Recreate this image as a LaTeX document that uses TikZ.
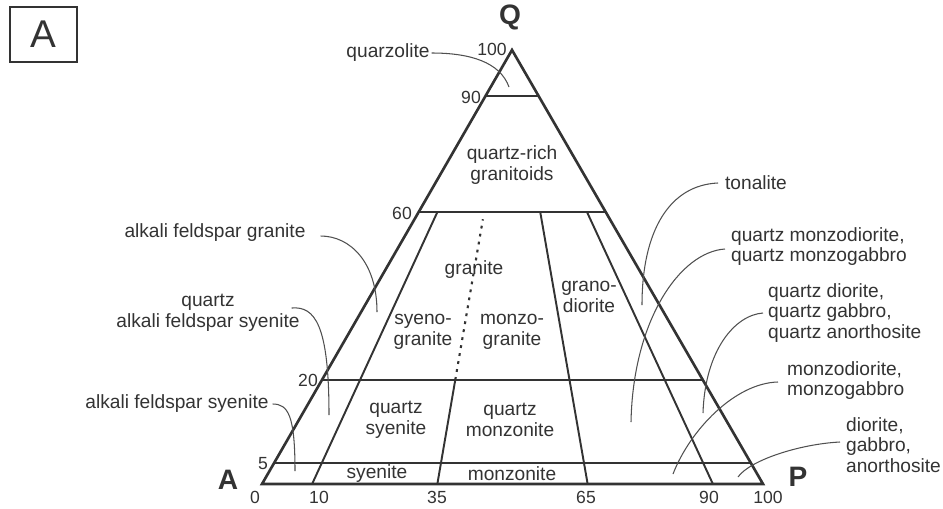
\documentclass[tikz,border=0pt]{standalone}
\usepackage{fontspec}
\setmainfont{Liberation Sans}
\usetikzlibrary{positioning,calc}

\definecolor{ink}{HTML}{333333}
\definecolor{leadc}{HTML}{505050}

\begin{document}
\begin{tikzpicture}[x=0.02cm,y=-0.02cm,
  font=\fontsize{10.9}{11.8}\selectfont,text=ink,
  lbl/.style={inner sep=1pt},
  lbll/.style={inner sep=1pt,align=left,anchor=west},
  lblc/.style={inner sep=1pt,align=center},
  num/.style={inner sep=0pt,font=\fontsize{10}{11}\selectfont},
  vtx/.style={inner sep=0pt,font=\fontsize{16}{18}\selectfont\bfseries},
  rim/.style={draw=ink,line width=1.5pt,line join=miter},
  cut/.style={draw=ink,line width=1.1pt},
  leader/.style={draw=leadc,line width=0.6pt}]
\useasboundingbox (0,0) rectangle (943,508);

% panel tag
\node[draw=ink,line width=1.1pt,minimum width=1.34cm,minimum height=1.1cm,
  inner sep=0pt,font=\fontsize{22}{24}\selectfont] (panel) at (43.5,34.5) {A};

% corners of the QAP triangle
\coordinate (A) at (262,484);
\coordinate (P) at (763,484);
\coordinate (Q) at (512,50);

% horizontal cuts at Q = 90, 60, 20, 5
\foreach \f/\n in {0.894/q90,0.627/q60,0.240/q20,0.048/q5} {
  \coordinate (\n-l) at ($(A)!\f!(Q)$);
  \coordinate (\n-r) at ($(P)!\f!(Q)$);
  \draw[cut] (\n-l) -- (\n-r);
}

% rays towards Q from the A--P side
\foreach \f/\n in {0.1/b10,0.35/b35,0.65/b65,0.9/b90}
  \coordinate (\n) at ($(A)!\f!(P)$);
\draw[cut] (b10) -- ($(b10)!0.627!(Q)$);
\draw[cut] (b65) -- ($(b65)!0.627!(Q)$);
\draw[cut] (b90) -- ($(b90)!0.627!(Q)$);
\draw[cut] (b35) -- ($(b35)!0.240!(Q)$);
\draw[cut,line width=1.2pt,dash pattern=on 1.6pt off 3pt]
  ($(b35)!0.240!(Q)$) -- ($(b35)!0.61!(Q)$);

\draw[rim] (A) -- (P) -- (Q) -- cycle;

% corner letters
\node[vtx] (lq) at (510,17) {Q};
\node[vtx] (la) at (228,480) {A};
\node[vtx] (lp) at (798,477) {P};

% scale numbers
\node[num] (t100) at (492,49) {100};
\node[num] (t90) at (471,97) {90};
\node[num] (t60) at (402,213) {60};
\node[num] (t20) at (308,380) {20};
\node[num] (t5) at (263,464) {5};
\node[num] (s0) at (255,497) {0};
\node[num] (s10) at (319,497) {10};
\node[num] (s35) at (437,497) {35};
\node[num] (s65) at (586,497) {65};
\node[num] (s90) at (709,497) {90};
\node[num] (s100) at (768,497) {100};

% fields inside
\node[lblc] (qrg) at (512,165) {quartz-rich\\granitoids};
\node[lblc] (gra) at (474,270) {granite};
\node[lblc] (syg) at (423,332) {syeno-\\granite};
\node[lblc] (mzg) at (512,332) {monzo-\\granite};
\node[lblc] (grd) at (589,297) {grano-\\diorite};
\node[lblc] (qsy) at (396,420) {quartz\\syenite};
\node[lblc] (qmz) at (510,420) {quartz\\monzonite};
\node[lblc] (sye) at (377,474) {syenite};
\node[lblc] (mzn) at (512,474) {monzonite};

% fields outside, with leaders
\node[lbl] (qzl) at (388,53) {quarzolite};
\coordinate (qzl-end) at (509,87);
\draw[leader] (qzl.east) .. controls (470,53) and (500,62) .. (qzl-end);

\node[lbl] (afg) at (215,233) {alkali feldspar granite};
\coordinate (afg-end) at (377,312);
\draw[leader] ([shift={(13,3)}]afg.east) .. controls (350,236) and (377,262) .. (afg-end);

\node[lblc] (qafs) at (208,313) {quartz\\alkali feldspar syenite};
\coordinate (qafs-end) at (329,415);
\draw[leader] ([shift={(-10,-5)}]qafs.east) .. controls (315,306) and (329,325) .. (qafs-end);

\node[lbl] (afs) at (177,404) {alkali feldspar syenite};
\coordinate (afs-end) at (295,471);
\draw[leader] ([shift={(2,0)}]afs.east) .. controls (288,404) and (295,415) .. (afs-end);

\node[lbl] (ton) at (756,183) {tonalite};
\coordinate (ton-end) at (642,305);
\draw[leader] ([shift={(-5,0)}]ton.west) .. controls (670,185) and (642,230) .. (ton-end);

\node[lbll] (qmd) at (729,246.5) {quartz monzodiorite,\\quartz monzogabbro};
\coordinate (qmd-end) at (631,422);
\draw[leader] ([shift={(-4,2.5)}]qmd.west) .. controls (680,252) and (633,320) .. (qmd-end);

\node[lbll] (qdi) at (766,313) {quartz diorite,\\quartz gabbro,\\quartz anorthosite};
\coordinate (qdi-end) at (703,413);
\draw[leader] ([shift={(-3,0)}]qdi.west) .. controls (735,315) and (705,350) .. (qdi-end);

\node[lbll] (mzd) at (785,380.5) {monzodiorite,\\monzogabbro};
\coordinate (mzd-end) at (673,474);
\draw[leader] ([shift={(-7,1.5)}]mzd.west) .. controls (735,383) and (690,430) .. (mzd-end);

\node[lbll] (dio) at (844,445) {diorite,\\gabbro,\\anorthosite};
\coordinate (dio-end) at (738,477);
\draw[leader] ([shift={(-4,-3)}]dio.west) .. controls (800,444) and (750,460) .. (dio-end);
\end{tikzpicture}
\end{document}
